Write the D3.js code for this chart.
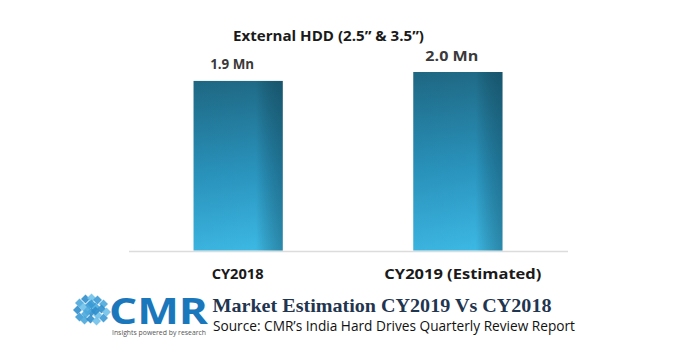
<!DOCTYPE html>
<html><head><meta charset="utf-8">
<script src="https://cdn.jsdelivr.net/npm/d3@7"></script>
<style>html,body{margin:0;padding:0;background:#fff;} svg{display:block;}</style>
</head><body>
<svg id="chart" width="685" height="363"></svg>
<script>
const categories = ["CY2018", "CY2019 (Estimated)"];
const values = [1.9, 2.0];
const valueLabels = ["1.9 Mn", "2.0 Mn"];
const chartTitle = "External HDD (2.5\u201D & 3.5\u201D)";
const footerTitle = "Market Estimation CY2019 Vs CY2018";
const footerSource = "Source: CMR\u2019s India Hard Drives Quarterly Review Report";

const svg = d3.select("#chart");
const W = 685, H = 363;
const sans = "'Open Sans', Lato, sans-serif";

const x = d3.scaleBand().domain(categories).range([128.5, 567.5]).paddingInner(0.594).paddingOuter(0.296);
const y = d3.scaleLinear().domain([0, 2.0]).range([250.5, 72]);

const defs = svg.append("defs");
const gv = defs.append("linearGradient").attr("id","gv").attr("x1",0).attr("y1",0).attr("x2",0).attr("y2",1);
gv.append("stop").attr("offset","0%").attr("stop-color","#1f6a86");
gv.append("stop").attr("offset","55%").attr("stop-color","#2a95bf");
gv.append("stop").attr("offset","100%").attr("stop-color","#3cb8e4");
const gh = defs.append("linearGradient").attr("id","gh").attr("x1",0).attr("y1",0).attr("x2",1).attr("y2",0);
gh.append("stop").attr("offset","0%").attr("stop-color","#000").attr("stop-opacity",0.03);
gh.append("stop").attr("offset","70%").attr("stop-color","#000").attr("stop-opacity",0.0);
gh.append("stop").attr("offset","100%").attr("stop-color","#0a3040").attr("stop-opacity",0.35);

// title
svg.append("text").attr("x", 328.5).attr("y", 41)
  .attr("text-anchor","middle").attr("font-family",sans).attr("font-weight","bold")
  .attr("font-size",15).attr("fill","#1a1a1a").attr("textLength",191).attr("lengthAdjust","spacingAndGlyphs")
  .text(chartTitle);

// baseline axis
const axis = d3.axisBottom(x).tickSize(0).tickPadding(0).tickFormat("");
const ag = svg.append("g").attr("transform", `translate(0,${y(0)+0.5})`).call(axis);
ag.select(".domain").attr("stroke","#dcdcdc").attr("stroke-width",1.5);

// bars
const bars = svg.append("g");
categories.forEach((c,i)=>{
  bars.append("rect").attr("x", x(c)).attr("y", y(values[i])).attr("width", x.bandwidth()).attr("height", y(0)-y(values[i])).attr("fill","url(#gv)");
  bars.append("rect").attr("x", x(c)).attr("y", y(values[i])).attr("width", x.bandwidth()).attr("height", y(0)-y(values[i])).attr("fill","url(#gh)");
});

// value labels
const lblW = [44, 53];
svg.append("g").selectAll("text").data(categories).join("text")
  .attr("x", d => x(d) + x.bandwidth()/2 - 6)
  .attr("y", (d,i) => y(values[i]) - 11.5)
  .attr("text-anchor","middle").attr("font-family",sans).attr("font-weight","bold")
  .attr("font-size",13.5).attr("fill","#3a3a3a")
  .attr("textLength",(d,i)=>lblW[i]).attr("lengthAdjust","spacingAndGlyphs")
  .text((d,i)=>valueLabels[i]);

// category labels
const catW = [52, 157];
svg.append("g").selectAll("text").data(categories).join("text")
  .attr("x", (d,i) => x(d) + x.bandwidth()/2 + (i===0 ? -0.5 : 5))
  .attr("y", 278.5)
  .attr("text-anchor","middle").attr("font-family",sans).attr("font-weight","bold")
  .attr("font-size",15).attr("fill","#1a1a1a")
  .attr("textLength",(d,i)=>catW[i]).attr("lengthAdjust","spacingAndGlyphs")
  .text(d=>d);

// logo icon (cluster of cubes)
const logo = svg.append("g").attr("transform","translate(91.5,310)");
const cubePts = [[-12,-7],[-6,-11],[0,-12],[6,-10],[12,-6],[-14,0],[-8,-3],[-2,-5],[4,-3],[10,-1],[15,2],[-12,7],[-6,4],[0,2],[6,5],[12,8],[-7,10],[-1,9],[5,11],[0,-6],[-4,1],[4,1]];
cubePts.forEach((p,i)=>{
  logo.append("rect").attr("x",p[0]-3.2).attr("y",p[1]-3.2).attr("width",6.4).attr("height",6.4)
    .attr("transform",`rotate(45 ${p[0]} ${p[1]})`)
    .attr("fill", ["#4aa8dc","#2f8ecb","#6fc0ea","#3b9ad4"][i%4]).attr("opacity",0.9);
});
svg.append("text").attr("x",109).attr("y",323.5).attr("font-family","'Open Sans', Lato, sans-serif").attr("font-weight","bold")
  .attr("font-size",36).attr("fill","#1b77bb").attr("textLength",99).attr("lengthAdjust","spacingAndGlyphs").text("CMR");
svg.append("text").attr("x",112).attr("y",335).attr("font-family",sans)
  .attr("font-size",7).attr("fill","#555").attr("textLength",94).attr("lengthAdjust","spacingAndGlyphs").text("Insights powered by research");

// footer texts
svg.append("text").attr("x",212.5).attr("y",312).attr("font-family","'Liberation Serif', 'Times New Roman', serif").attr("font-weight","bold")
  .attr("font-size",19.5).attr("fill","#1f3550").attr("textLength",339).attr("lengthAdjust","spacingAndGlyphs").text(footerTitle);
svg.append("text").attr("x",213).attr("y",331).attr("font-family",sans)
  .attr("font-size",14.5).attr("fill","#111").attr("textLength",362).attr("lengthAdjust","spacingAndGlyphs").text(footerSource);
</script>
</body></html>
